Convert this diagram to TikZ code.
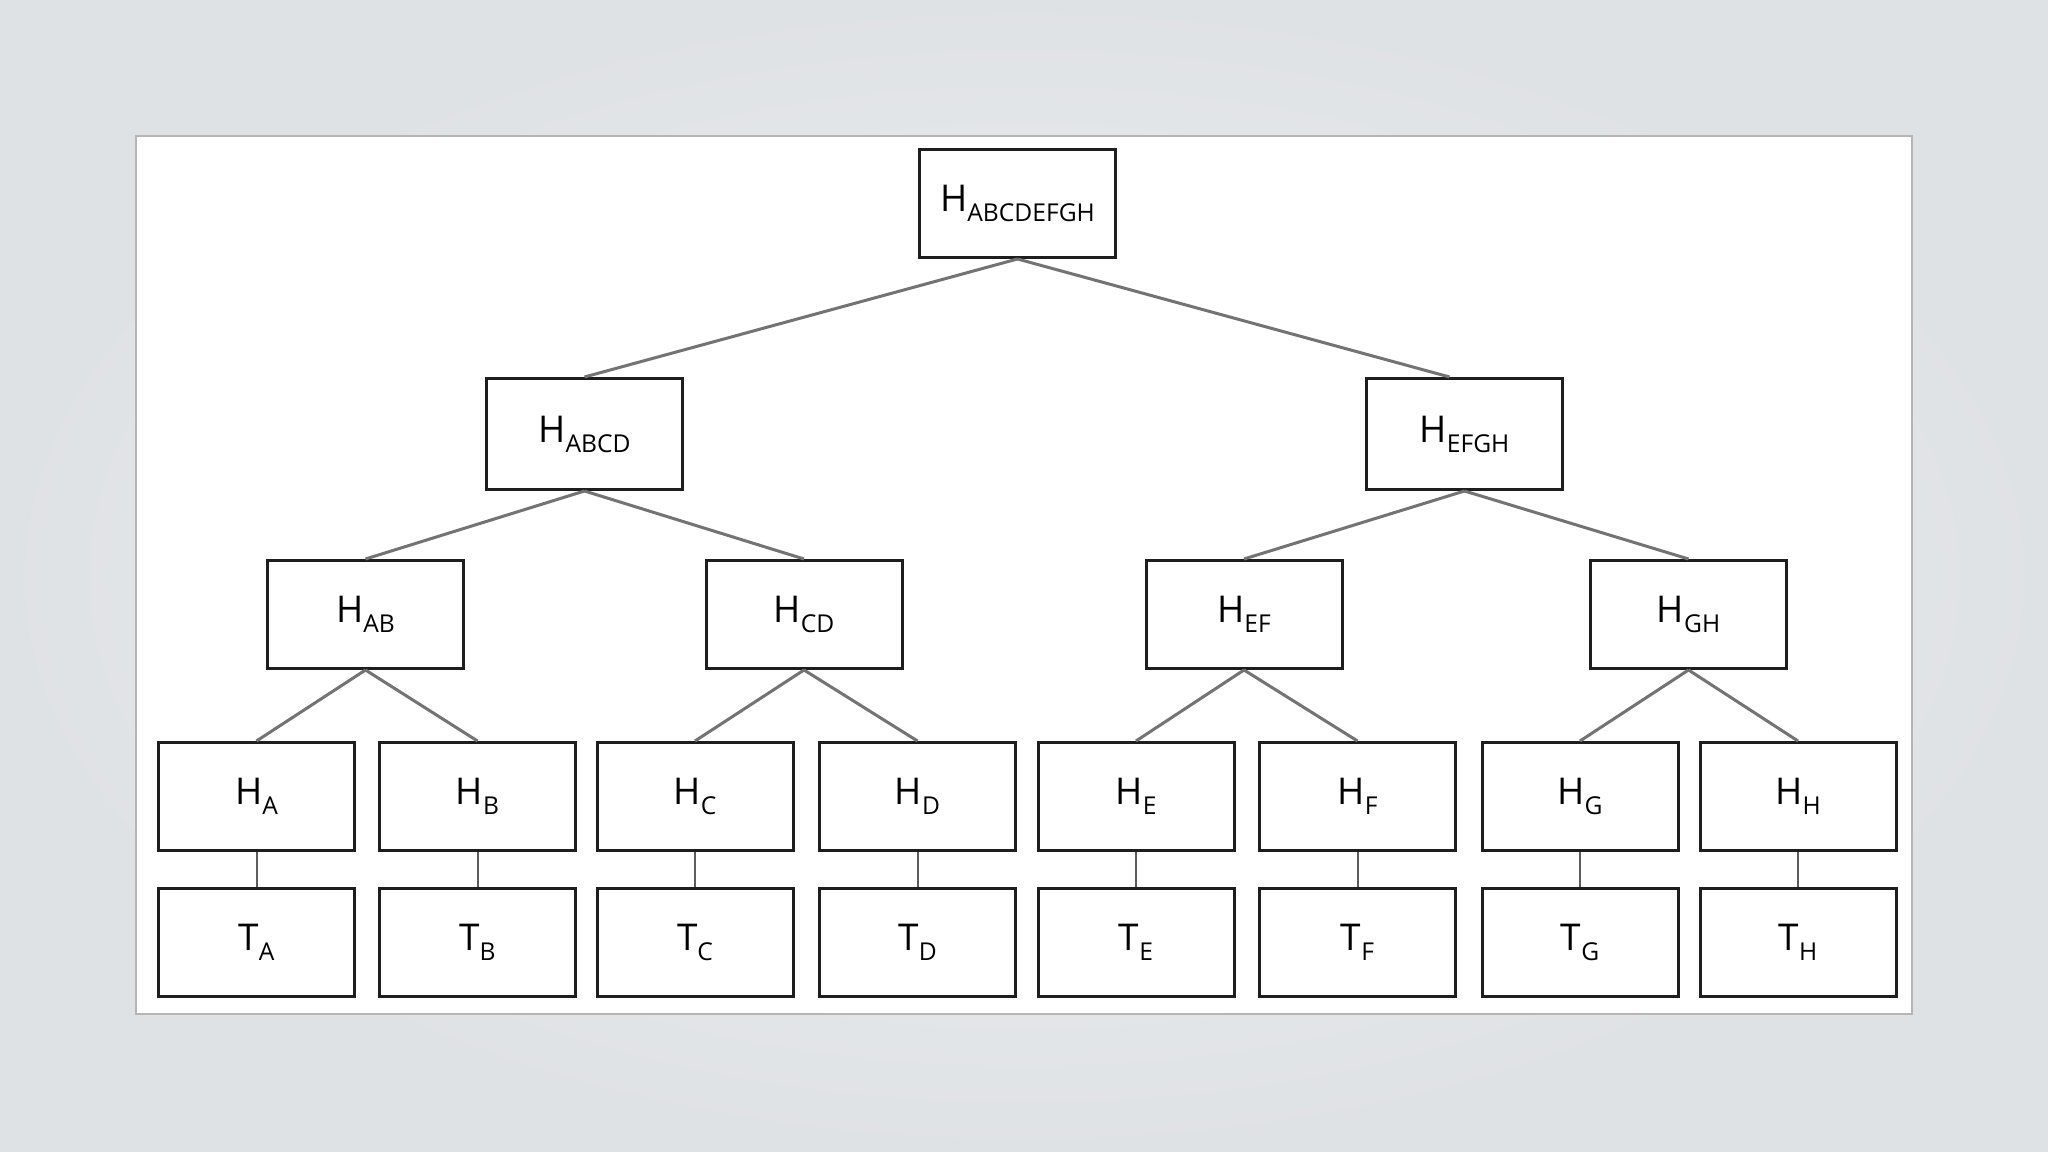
\documentclass[tikz,border=0pt]{standalone}
\usepackage{fontspec}
\setmainfont{Open Sans}
\usetikzlibrary{positioning}
\definecolor{slidebgin}{rgb}{0.937, 0.945, 0.953}
\definecolor{slidebgout}{rgb}{0.875, 0.886, 0.898}
\definecolor{panelgrey}{rgb}{0.71, 0.71, 0.71}
\definecolor{boxdark}{rgb}{0.118, 0.118, 0.118}
\definecolor{linkgrey}{rgb}{0.45, 0.45, 0.45}
\newcommand{\hsub}[2]{#1\raisebox{-1mm}{\fontsize{7}{8}\selectfont #2}}

\begin{document}
\begin{tikzpicture}[x=0.1mm, y=-0.1mm,
    hashbox/.style={draw=boxdark, line width=0.3mm, fill=white, minimum width=19.6mm,
        minimum height=10.8mm, inner sep=0pt, font=\fontsize{10.5}{12}\selectfont},
    treeline/.style={draw=linkgrey, line width=0.3mm},
    leafline/.style={draw=linkgrey!80!black, line width=0.2mm}]
            \useasboundingbox (0,0) rectangle (2048,1152);
            \shade[inner color=slidebgin, outer color=slidebgout] (0,0) rectangle (2048,1152);
            \draw[panelgrey, line width=0.2mm, fill=white] (136,136) rectangle (1912,1014);

            % upper levels
            \node[hashbox] (hroot) at (1017.5, 203.5) {\hsub{H}{ABCDEFGH}};
            \node[hashbox, minimum height=11.1mm] (hABCD) at (584.5, 434) {\hsub{H}{ABCD}};
            \node[hashbox, minimum height=11.1mm] (hEFGH) at (1464.5, 434) {\hsub{H}{EFGH}};
            \node[hashbox] (hAB) at (365.5, 614.5) {\hsub{H}{AB}};
            \node[hashbox] (hCD) at (804, 614.5) {\hsub{H}{CD}};
            \node[hashbox] (hEF) at (1244, 614.5) {\hsub{H}{EF}};
            \node[hashbox] (hGH) at (1688.5, 614.5) {\hsub{H}{GH}};

            % leaves and transactions
            \foreach \l/\x in {A/256.5, B/477.5, C/695, D/917.5, E/1136, F/1357.5, G/1580, H/1798} {
                \node[hashbox] (h\l) at (\x, 796.5) {\hsub{H}{\l}};
                \node[hashbox] (t\l) at (\x, 942.5) {\hsub{T}{\l}};
                \draw[leafline] (h\l) -- (t\l);
            }

            \draw[treeline] (hroot.south) -- (hABCD.north);
            \draw[treeline] (hroot.south) -- ([xshift=-1.5mm]hEFGH.north);
            \draw[treeline] (hABCD.south) -- (hAB.north);
            \draw[treeline] (hABCD.south) -- (hCD.north);
            \draw[treeline] (hEFGH.south) -- (hEF.north);
            \draw[treeline] (hEFGH.south) -- (hGH.north);
            \draw[treeline] (hAB.south) -- (hA.north);
            \draw[treeline] (hAB.south) -- (hB.north);
            \draw[treeline] (hCD.south) -- (hC.north);
            \draw[treeline] (hCD.south) -- (hD.north);
            \draw[treeline] (hEF.south) -- (hE.north);
            \draw[treeline] (hEF.south) -- (hF.north);
            \draw[treeline] (hGH.south) -- (hG.north);
            \draw[treeline] (hGH.south) -- (hH.north);

        \end{tikzpicture}
\end{document}
